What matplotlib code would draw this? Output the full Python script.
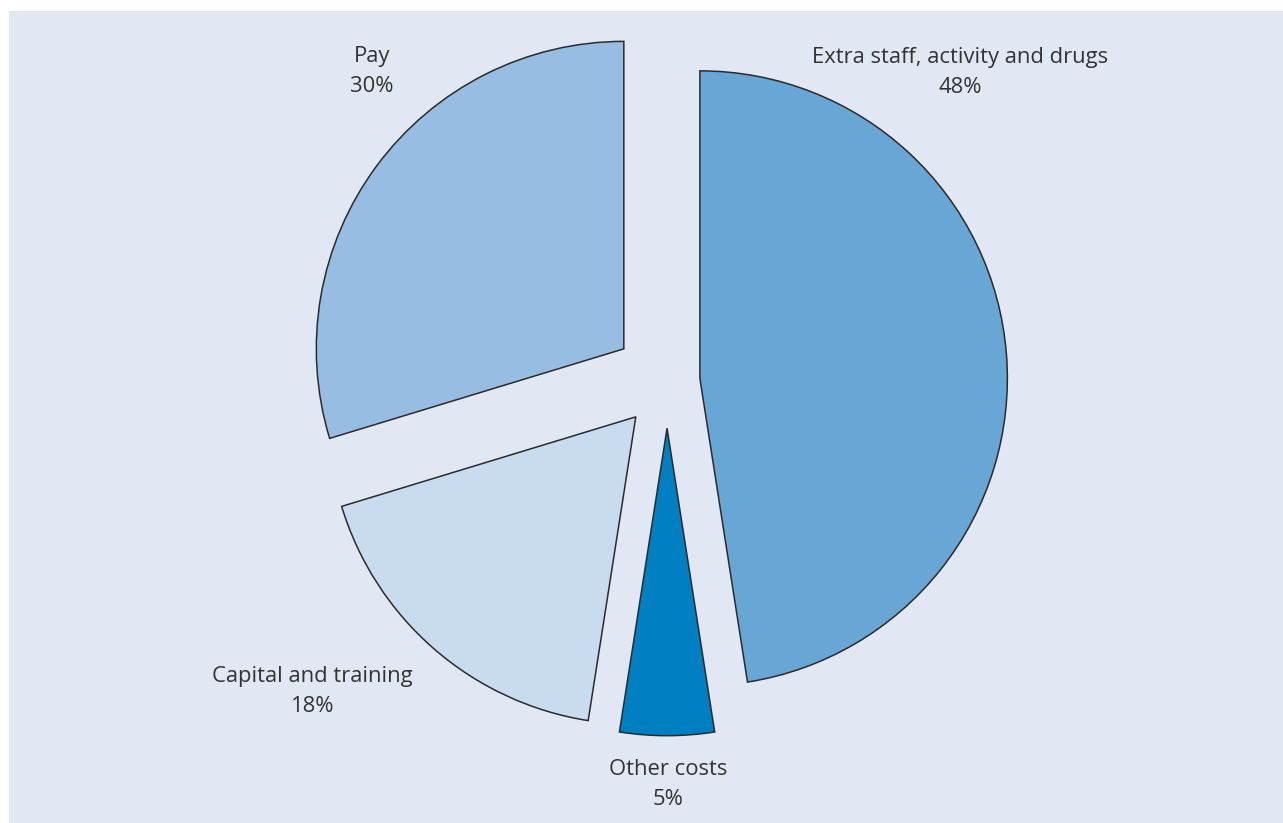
import matplotlib.pyplot as plt

# slice data (clockwise from 12 o'clock)
labels = ['Extra staff, activity and drugs', 'Other costs', 'Capital and training', 'Pay']
shares = [48, 5, 18, 30]
colors = ['#68a6d6', '#0080c3', '#c9dbef', '#97bde2']
explode = [0.107, 0.154, 0.155, 0.175]

# label anchor points in data units (pie radius = 1)
label_x = [0.953, 0.003, -1.154, -0.959]
label_y = [1.002, -1.314, -1.011, 1.005]

plt.rcParams['font.family'] = ['Open Sans', 'DejaVu Sans']

fig = plt.figure(figsize=(12.83, 8.23), dpi=100)
fig.patch.set_facecolor('white')
ax = fig.add_axes([9 / 1283, 0, 1274 / 1283, 812 / 823])

wedges, _ = ax.pie(shares, colors=colors, explode=explode, startangle=90,
                   counterclock=False, radius=1,
                   wedgeprops={'edgecolor': '#2b2b2b', 'linewidth': 1.1})

for name, val, x, y in zip(labels, shares, label_x, label_y):
    ax.text(x, y, f'{name}\n{val}%', ha='center', va='center',
            fontsize=15.8, color='#333333', linespacing=1.55)

ax.set_frame_on(True)
ax.set_facecolor('#e1e8f4')
for s in ax.spines.values():
    s.set_visible(False)
ax.set_aspect('auto')
ax.set_xlim(-2.140, 2.003)
ax.set_ylim(-1.438, 1.203)
ax.set_xticks([])
ax.set_yticks([])

fig.savefig('out.png', dpi=100, facecolor=fig.get_facecolor())
